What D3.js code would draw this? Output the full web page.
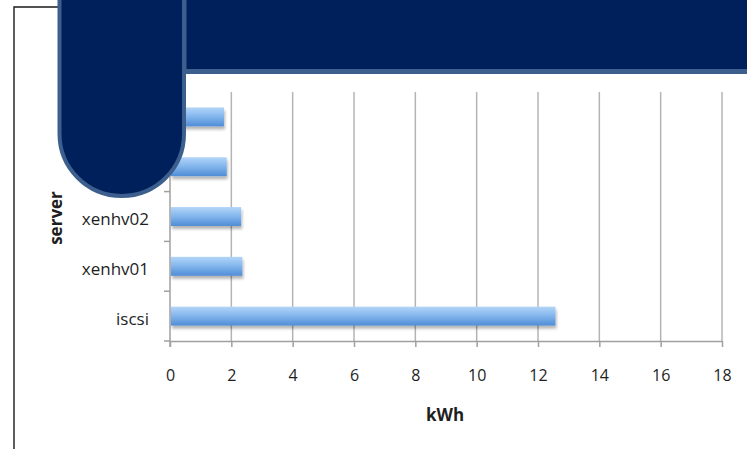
<!DOCTYPE html>
<html>
<head>
<meta charset="utf-8">
<script src="https://cdn.jsdelivr.net/npm/d3@7"></script>
<style>
  html, body { margin: 0; padding: 0; background: #ffffff; }
  svg { display: block; }
</style>
</head>
<body>
<svg id="chart" width="747" height="449"></svg>
<script>
// Energy use per server (kWh), listed bottom to top as the axis shows them
const categories = ["iscsi", "xenhv01", "xenhv02", "xenhv03", "xenhv04"];
const kwhValues  = [12.57, 2.36, 2.32, 1.85, 1.76];
const xTickValues = [0, 2, 4, 6, 8, 10, 12, 14, 16, 18];
const xAxisTitle = "kWh";
const yAxisTitle = "server";

const svg = d3.select("#chart");
const W = 747, H = 449;
const plot = { left: 170, right: 722, top: 92, bottom: 341 };
const font = "'Open Sans', 'Noto Sans', sans-serif";

const rows = categories.map((c, i) => ({ name: c, value: kwhValues[i] }));

const x = d3.scaleLinear().domain([0, 18]).range([plot.left, plot.right]);
const y = d3.scaleBand()
  .domain(categories.slice().reverse())
  .range([plot.top, plot.bottom])
  .paddingInner(0.62)
  .paddingOuter(0.31);

// gradient and soft shadow for the bars
const defs = svg.append("defs");
const grad = defs.append("linearGradient")
  .attr("id", "barFill").attr("x1", 0).attr("y1", 0).attr("x2", 0).attr("y2", 1);
grad.append("stop").attr("offset", "0%").attr("stop-color", "#b3d5f8");
grad.append("stop").attr("offset", "45%").attr("stop-color", "#86b8ee");
grad.append("stop").attr("offset", "100%").attr("stop-color", "#4f8dd6");

const shadow = defs.append("filter").attr("id", "barShadow")
  .attr("x", "-5%").attr("y", "-30%").attr("width", "115%").attr("height", "190%");
shadow.append("feGaussianBlur").attr("in", "SourceAlpha").attr("stdDeviation", 1.6).attr("result", "b");
shadow.append("feOffset").attr("in", "b").attr("dx", 1).attr("dy", 3).attr("result", "o");
shadow.append("feComponentTransfer").attr("in", "o").attr("result", "s")
  .append("feFuncA").attr("type", "linear").attr("slope", 0.3);
const merge = shadow.append("feMerge");
merge.append("feMergeNode").attr("in", "s");
merge.append("feMergeNode").attr("in", "SourceGraphic");

// outer frame of the chart box
svg.append("path")
  .attr("d", `M14,${H + 2} L14,7 L70,7`)
  .attr("fill", "none").attr("stroke", "#1a1a1a").attr("stroke-width", 1.4);

// vertical gridlines
svg.append("g").selectAll("line").data(xTickValues.slice(1)).join("line")
  .attr("x1", d => x(d)).attr("x2", d => x(d))
  .attr("y1", plot.top).attr("y2", plot.bottom)
  .attr("stroke", "#b4b4b4").attr("stroke-width", 1.5);

// x axis
const xAxis = svg.append("g").attr("transform", `translate(0,${plot.bottom})`)
  .call(d3.axisBottom(x).tickValues(xTickValues).tickSize(6).tickPadding(23).tickSizeOuter(0));
xAxis.select(".domain").attr("stroke", "#a0a0a0").attr("stroke-width", 1.5);
xAxis.selectAll(".tick line").attr("stroke", "#a0a0a0").attr("stroke-width", 1.5);
xAxis.selectAll("text")
  .attr("font-family", font).attr("font-size", 16).attr("fill", "#1e1e1e");

// y axis line with ticks at category boundaries
const yAxisG = svg.append("g");
yAxisG.append("line")
  .attr("x1", plot.left).attr("x2", plot.left)
  .attr("y1", plot.top).attr("y2", plot.bottom + 6)
  .attr("stroke", "#a0a0a0").attr("stroke-width", 1.5);
const boundaries = d3.range(categories.length + 1).map(i => plot.top + i * y.step());
yAxisG.selectAll("line.tk").data(boundaries).join("line").attr("class", "tk")
  .attr("x1", plot.left - 6).attr("x2", plot.left)
  .attr("y1", d => d).attr("y2", d => d)
  .attr("stroke", "#a0a0a0").attr("stroke-width", 1.5);
yAxisG.selectAll("text").data(categories).join("text")
  .attr("x", plot.left - 21)
  .attr("y", d => y(d) + y.bandwidth() / 2)
  .attr("dy", "0.5em")
  .attr("text-anchor", "end")
  .attr("font-family", font).attr("font-size", 17).attr("fill", "#1e1e1e")
  .text(d => d);

// bars
svg.append("g").selectAll("rect").data(rows).join("rect")
  .attr("x", x(0) + 1)
  .attr("y", d => y(d.name))
  .attr("width", d => x(d.value) - x(0) - 1)
  .attr("height", y.bandwidth())
  .attr("fill", "url(#barFill)")
  .attr("filter", "url(#barShadow)");

// axis titles
svg.append("text")
  .attr("x", 445).attr("y", 421)
  .attr("text-anchor", "middle")
  .attr("font-family", font).attr("font-size", 17).attr("font-weight", "bold").attr("fill", "#1e1e1e")
  .text(xAxisTitle);
svg.append("text")
  .attr("transform", `translate(62,218) rotate(-90)`)
  .attr("text-anchor", "middle")
  .attr("font-family", font).attr("font-size", 17).attr("font-weight", "bold").attr("fill", "#1e1e1e")
  .text(yAxisTitle);

// title banner with rounded tab
const navy = "#00205b", edge = "#3c5f8d";
svg.append("rect")
  .attr("x", 184).attr("y", -10).attr("width", W - 184 + 10).attr("height", 81.5)
  .attr("fill", navy).attr("stroke", edge).attr("stroke-width", 5);
const tabL = 59.5, tabR = 184, r = (tabR - tabL) / 2, cy = 196 - r;
svg.append("path")
  .attr("d", `M${tabL},-10 L${tabL},${cy} A${r},${r} 0 0 0 ${tabR},${cy} L${tabR},-10 Z`)
  .attr("fill", navy).attr("stroke", edge).attr("stroke-width", 4);
</script>
</body>
</html>
